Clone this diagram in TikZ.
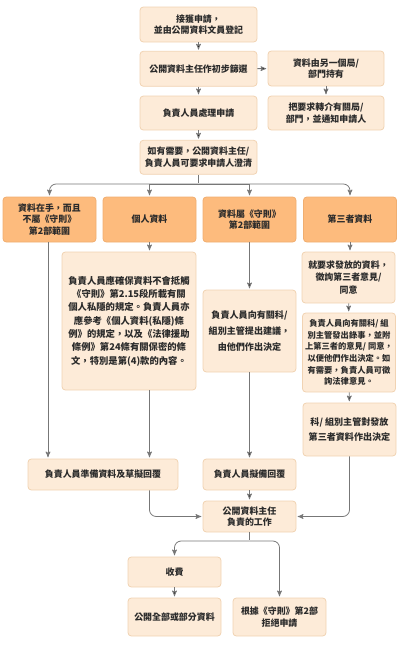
\documentclass[tikz,border=0pt]{standalone}
\usepackage{fontspec}
\setmainfont{Noto Sans CJK TC}
\usetikzlibrary{arrows,positioning}
\definecolor{peach}{HTML}{FDEBD8}
\definecolor{peachline}{HTML}{F1D3B3}
\definecolor{catfill}{HTML}{FDBB7D}
\definecolor{catline}{HTML}{F0AE70}
\definecolor{flowgray}{HTML}{777777}
\definecolor{ink}{HTML}{2B2B2B}
\tikzstyle{task}=[rectangle,rounded corners=2.5pt,draw=peachline,fill=peach,text=ink,
  align=center,inner sep=1pt,font=\fontsize{6.7}{8.6}\selectfont\bfseries]
\tikzstyle{category}=[task,fill=catfill,draw=catline,minimum width=69.75pt,minimum height=33.75pt]
\tikzstyle{wide}=[minimum width=87.75pt]
\tikzstyle{narrow}=[minimum width=69.75pt]
\tikzstyle{link}=[draw=flowgray]

\begin{document}
\begin{tikzpicture}[x=0.75pt,y=-0.75pt,->,>=stealth',shorten >=1pt,auto,node distance=33.2pt,
                    semithick]
  \useasboundingbox (0,0) rectangle (400,646);

  % main column
  \node[task,wide,minimum height=26.25pt] (recv) at (198.5,24.5) {接獲申請，\\並由公開資料文員登記};
  \node[task,wide,minimum height=26.25pt] (screen) [below of=recv] {公開資料主任作初步篩選};
  \node[task,wide,minimum height=25.5pt]  (handle) [below of=screen] {負責人員處理申請};
  \node[task,wide,minimum height=25.5pt]  (clarify) [below of=handle] {如有需要，公開資料主任/\\負責人員可要求申請人澄清};
  \node[task,minimum width=87pt,minimum height=26.25pt] (other) at (326,68.5) {資料由另一個局/\\部門持有};
  \node[task,minimum width=87pt,minimum height=25.5pt]  (refer) at (326,113) {把要求轉介有關局/\\部門，並通知申請人};

  % categories
  \node[category] (catA) at (49.5,219.5) {資料在手，而且\\不屬《守則》\\第2部範圍};
  \node[category] (catB) at (149.5,219.5) {個人資料};
  \node[category] (catC) at (249.5,219.5) {資料屬《守則》\\第2部範圍};
  \node[category] (catD) at (350,219.5) {第三者資料};

  % details
  \node[task,minimum width=100.5pt,minimum height=103.5pt,font=\fontsize{7}{10}\selectfont\bfseries] (privacy) at (129,321)
    {負責人員應確保資料不會抵觸\\《守則》第2.15段所載有關\\個人私隱的規定。負責人員亦\\應參考《個人資料(私隱)條\\例》的規定，以及《法律援助\\條例》第24條有關保密的條\\文，特別是第(4)款的內容。};
  \node[task,narrow,minimum height=61.5pt,font=\fontsize{6.8}{11.8}\selectfont\bfseries] (advise) at (249.5,331)
    {負責人員向有關科/\\組別主管提出建議，\\由他們作出決定};
  \node[task,narrow,minimum height=38.25pt,font=\fontsize{6.7}{9.3}\selectfont\bfseries] (consult) at (348.5,277.5)
    {就要求發放的資料，\\徵詢第三者意見/\\同意};
  \node[task,narrow,minimum height=59.25pt,font=\fontsize{6.2}{8.7}\selectfont\bfseries] (memo) at (349,352.5)
    {負責人員向有關科/ 組\\別主管發出錄事，並附\\上第三者的意見/ 同意，\\以便他們作出決定。如\\有需要，負責人員可徵\\詢法律意見。};
  \node[task,narrow,minimum height=39.75pt,font=\fontsize{6.8}{11.3}\selectfont\bfseries] (decide) at (349.5,429.5)
    {科/ 組別主管對發放\\第三者資料作出決定};

  % replies
  \node[task,minimum width=112.5pt,minimum height=23.25pt] (prep) at (103,474.5) {負責人員準備資料及草擬回覆};
  \node[task,narrow,minimum height=23.25pt] (draft) at (249.5,474.5) {負責人員擬備回覆};
  \node[task,narrow,minimum height=23.25pt] (duty) at (249.5,516.5) {公開資料主任\\負責的工作};
  \node[task,narrow,minimum height=22.5pt]  (fee) at (174.5,572) {收費};
  \node[task,narrow,minimum height=28.5pt]  (disclose) at (174.5,617) {公開全部或部分資料};
  \node[task,narrow,minimum height=28.5pt]  (refuse) at (279.5,617) {根據《守則》第2部\\拒絕申請};

  \coordinate (split) at (198.5,184);
  \coordinate (split2) at (249.5,541);

  \path[link] (recv) edge (screen)
        (screen) edge (handle)
                 edge (other)
        (handle) edge (clarify)
        (other) edge (refer);
  \draw[link,-] (clarify) -- (split);
  \draw[link,rounded corners=5pt] (split) -| (catA.north);
  \draw[link] (split) -| (catB.north);
  \draw[link] (split) -| (catC.north);
  \draw[link,rounded corners=5pt] (split) -| (catD.north);

  \draw[link] (catA.south -| 48,0) -- (prep.north -| 48,0);
  \draw[link] (catB.south) -- (privacy.north -| catB.south);
  \draw[link] (privacy.south -| catB.south) -- (prep.north -| catB.south);
  \draw[link,rounded corners=5pt] (prep.south -| catB.south) |- (duty.west);

  \path[link] (catC) edge (advise)
        (advise) edge (draft)
        (draft) edge (duty);

  \draw[link] (catD.south) -- (consult.north -| catD.south);
  \path[link] (consult) edge (memo)
        (memo) edge (decide);
  \draw[link,rounded corners=5pt] (decide.south) |- (duty.east);

  \draw[link,-] (duty) -- (split2);
  \draw[link,rounded corners=5pt] (split2) -| (fee.north);
  \draw[link,rounded corners=5pt] (split2) -| (refuse.north);
  \path[link] (fee) edge (disclose);
\end{tikzpicture}
\end{document}
